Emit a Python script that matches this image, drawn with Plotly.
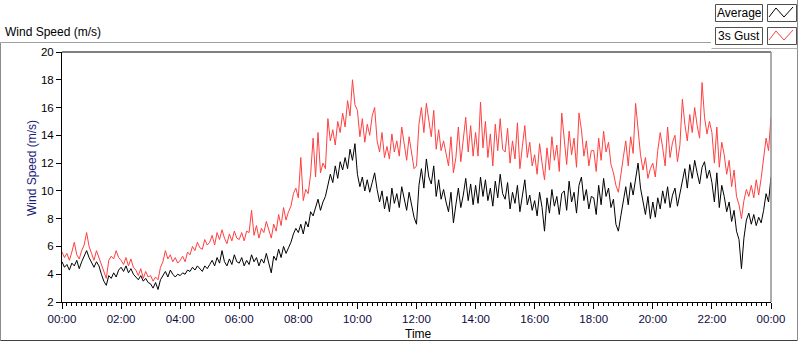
import plotly.graph_objects as go

# ---- data (5-minute samples, 00:00 .. 24:00) ----
step_minutes = 5
avg_speed = [
    4.9, 4.5, 4.7, 4.3, 4.8, 4.6, 5.0, 4.4, 4.9, 5.3, 5.7, 5.2,
    4.8, 4.5, 4.9, 4.6, 4.0, 3.5, 3.2, 3.9, 3.7, 4.1, 3.8, 4.3,
    4.5, 4.2, 4.6, 4.1, 4.4, 4.0, 3.8, 3.6, 3.9, 3.5, 3.7, 3.4,
    3.3, 3.0, 3.4, 2.9, 3.6, 3.9, 4.2, 3.8, 4.3, 4.0, 3.8, 4.0,
    3.9, 4.1, 4.0, 4.3, 4.2, 4.5, 4.3, 4.6, 4.4, 4.2, 4.6, 4.4,
    4.7, 5.0, 4.6, 5.2, 4.8, 5.7, 4.9, 4.6, 5.1, 4.7, 5.4, 4.9,
    4.8, 5.2, 4.6, 5.0, 4.7, 5.4, 4.9, 5.2, 4.6, 5.1, 4.8, 5.5,
    4.8, 4.1, 5.3, 5.0, 5.8, 5.2, 6.0, 5.5, 5.9, 6.3, 6.9, 7.3,
    7.0, 7.6, 6.9, 7.8, 7.4, 8.5, 8.2, 8.9, 9.4, 8.6, 9.2, 9.6,
    10.3, 11.2, 10.6, 11.8, 10.9, 12.1, 11.5, 12.4, 11.6, 13.0, 12.2, 13.4,
    11.2, 10.3, 11.0, 10.0, 10.8, 9.9, 10.6, 11.3, 10.1, 9.2, 10.0, 8.7,
    9.6, 8.5, 10.2, 9.1, 9.8, 8.8, 10.3, 9.4, 8.6, 9.9, 9.0, 8.1,
    7.6, 10.4, 11.6, 10.2, 12.3, 11.0, 10.5, 11.8, 9.6, 10.8, 9.4, 10.1,
    9.2, 8.5, 9.9, 7.7, 9.0, 10.2, 8.8, 9.7, 10.9, 9.3, 10.5, 9.0,
    10.4, 9.1, 11.0, 9.6, 10.8, 9.3, 10.2, 8.9, 10.7, 9.5, 11.2, 9.8,
    9.4, 10.6, 8.7, 9.9, 9.1, 10.4, 8.5, 9.6, 10.8, 9.0, 9.7, 8.6,
    9.3, 8.2, 9.9, 8.8, 7.1, 9.5, 8.4, 10.1, 8.9, 9.6, 8.3, 9.8,
    10.0, 8.6, 10.7, 9.2, 9.9, 8.4, 10.4, 11.0, 9.3, 10.1, 8.7, 9.6,
    9.5, 8.3, 10.4, 9.0, 10.9, 9.6, 10.2, 8.8, 9.4, 7.6, 7.1, 8.2,
    9.4, 10.3, 9.0, 10.6, 9.7, 11.0, 12.0, 10.2, 9.1, 8.3, 9.6, 8.0,
    9.2, 8.1, 9.5, 8.7, 10.0, 9.1, 10.3, 8.8, 9.7, 10.2, 8.9, 9.9,
    10.8, 11.6, 10.2, 11.9, 10.9, 12.2, 11.3, 10.5, 11.7, 12.1, 10.9, 11.5,
    10.6, 9.2, 11.3, 8.8, 10.4, 9.6, 8.5, 9.2, 7.8, 8.6, 7.1, 6.5,
    4.4, 6.6, 7.9, 8.4, 7.6, 8.3, 7.5, 8.1, 7.7, 8.6, 9.8, 9.2,
    11.0,
]
gust_speed = [
    5.6, 5.2, 5.5, 5.0, 5.6, 6.3, 5.4, 5.1, 5.7, 6.1, 7.0, 6.0,
    5.5, 5.0, 5.7, 5.2, 4.6, 4.2, 3.7, 5.0, 5.3, 5.1, 5.7, 5.2,
    5.0, 4.7, 5.2, 4.6, 5.1, 4.5, 4.3, 3.9, 4.4, 3.7, 4.2, 3.8,
    3.9, 3.5, 3.8, 3.6, 4.5, 4.9, 5.7, 5.1, 5.4, 4.9, 5.2, 4.8,
    5.0, 5.3, 4.9, 5.6, 5.4, 6.0, 5.7, 6.3, 5.9, 5.8, 6.5, 6.1,
    6.3, 6.8, 6.1, 7.0, 6.5, 7.2, 6.6, 6.2, 6.9, 6.4, 7.1, 6.6,
    6.5, 7.0, 6.4, 7.1, 7.0, 8.6, 6.8, 7.5, 6.6, 7.3, 7.0, 7.8,
    7.2, 6.6, 7.6, 7.1, 8.3, 7.5, 8.8, 7.9, 8.5, 8.9, 9.8, 10.2,
    9.5, 12.4, 9.3, 10.1, 9.8, 11.2, 13.8, 11.0, 14.2, 11.3, 12.0, 11.6,
    15.2, 13.6, 14.4, 13.3, 15.0, 14.2, 15.6, 14.6, 16.5, 15.4, 18.0, 16.2,
    15.8, 13.9, 15.2, 13.5, 14.8, 14.0, 15.4, 16.0, 13.6, 12.8, 14.2, 12.4,
    13.2, 12.3, 14.1, 12.8, 13.6, 12.5, 14.6, 13.3, 12.2, 13.9, 12.7, 11.6,
    11.8, 14.8, 16.0, 14.2, 16.3, 15.1, 13.9, 15.8, 13.0, 14.4, 12.9, 13.6,
    12.6, 11.8, 13.9, 11.3, 12.4, 14.6, 12.1, 13.5, 15.3, 12.8, 14.7, 12.5,
    14.2, 12.5, 16.4, 13.1, 15.0, 12.4, 14.1, 11.8, 14.8, 12.9, 15.2, 13.0,
    12.8, 14.5, 12.0, 13.6, 12.3, 14.9, 11.6, 13.2, 14.7, 12.4, 13.5, 11.8,
    12.6, 11.2, 13.4, 12.0, 10.8, 13.1, 11.5, 13.9, 12.2, 13.3, 11.4, 15.6,
    13.5, 11.9, 14.3, 12.6, 13.8, 11.7, 15.6, 14.4, 12.5, 13.6, 11.8, 12.9,
    12.9, 11.4, 13.8, 12.2, 14.3, 12.8, 13.5, 11.9, 11.3, 10.4, 9.9, 11.0,
    12.4, 13.6, 11.8, 13.9, 12.7, 16.3, 14.2, 12.6, 11.5, 12.4, 10.9, 11.6,
    12.0, 11.0, 12.9, 14.2, 13.1, 11.8, 14.6, 12.4, 13.5, 14.0, 12.1, 13.3,
    16.6, 14.8, 13.6, 15.5, 14.2, 16.0, 14.7, 13.8, 17.8, 15.3, 14.1, 15.0,
    14.2, 12.0, 14.6, 11.7, 13.5, 12.6, 11.2, 12.2, 10.3, 11.5, 9.6, 9.0,
    8.0, 9.3, 10.1, 9.6, 10.4, 9.5, 10.8, 9.7, 10.9, 12.6, 13.8, 12.9,
    15.3,
]
series_names = ["Average", "3s Gust"]
series_colors = ["#000000", "#ff4040"]
tick_hours = [0, 2, 4, 6, 8, 10, 12, 14, 16, 18, 20, 22, 24]
tick_labels = ["00:00", "02:00", "04:00", "06:00", "08:00", "10:00", "12:00",
               "14:00", "16:00", "18:00", "20:00", "22:00", "00:00"]
y_ticks = [2, 4, 6, 8, 10, 12, 14, 16, 18, 20]

time_hours = [i * step_minutes / 60 for i in range(len(avg_speed))]

# ---- layout geometry (pixels) ----
W, H = 800, 342
L, R, T, B = 62, 771, 52, 302


def px(x):
    return (x - L) / (R - L)


def py(y):
    return (B - y) / (B - T)


FONT = "Liberation Sans, Arial, sans-serif"

fig = go.Figure()
fig.add_trace(go.Scatter(x=time_hours, y=gust_speed, mode="lines", name=series_names[1],
                         line=dict(color=series_colors[1], width=1)))
fig.add_trace(go.Scatter(x=time_hours, y=avg_speed, mode="lines", name=series_names[0],
                         line=dict(color=series_colors[0], width=1)))

shapes = []
frame = "#8c8c8c"
# outer frame
shapes.append(dict(type="line", xref="paper", yref="paper", x0=px(0.5), x1=px(711), y0=py(42.5), y1=py(42.5),
                   line=dict(color="#a0a0a0", width=1)))
shapes.append(dict(type="line", xref="paper", yref="paper", x0=px(0.5), x1=px(0.5), y0=py(42.5), y1=py(340.5),
                   line=dict(color=frame, width=1)))
shapes.append(dict(type="line", xref="paper", yref="paper", x0=px(0.5), x1=px(797.5), y0=py(340.5), y1=py(340.5),
                   line=dict(color="#404040", width=1)))
shapes.append(dict(type="line", xref="paper", yref="paper", x0=px(797.5), x1=px(797.5), y0=py(0), y1=py(340.5),
                   line=dict(color=frame, width=1)))
# legend container
shapes.append(dict(type="line", xref="paper", yref="paper", x0=px(711.5), x1=px(797.5), y0=py(48.5), y1=py(48.5),
                   line=dict(color="#b0b0b0", width=1)))
# plot borders
shapes.append(dict(type="line", xref="paper", yref="paper", x0=0, x1=1, y0=1, y1=1,
                   line=dict(color="#000000", width=1)))
shapes.append(dict(type="line", xref="paper", yref="paper", x0=1, x1=1, y0=0, y1=1,
                   line=dict(color="#909090", width=1.5)))

annotations = []
# legend boxes
rows = [(4, 21), (27, 44)]
for (y0, y1), name, col in zip(rows, series_names, series_colors):
    shapes.append(dict(type="rect", xref="paper", yref="paper", x0=px(715.5), x1=px(762.5), y0=py(y0 + 0.5), y1=py(y1 + 0.5),
                       line=dict(color="#505050", width=1), fillcolor="#ffffff"))
    shapes.append(dict(type="rect", xref="paper", yref="paper", x0=px(767.5), x1=px(796.5), y0=py(y0 + 0.5), y1=py(y1 + 0.5),
                       line=dict(color="#505050", width=1), fillcolor="#ffffff"))
    pts = [(769, y1 - 4), (776, y0 + 4), (784, y1 - 4), (793, y0 + 3)]
    path = "M " + " L ".join(f"{px(a):.5f},{py(b):.5f}" for a, b in pts)
    shapes.append(dict(type="path", xref="paper", yref="paper", path=path, line=dict(color=col, width=1)))
    annotations.append(dict(x=px(739), y=py((y0 + y1) / 2 + 0.5), xref="paper", yref="paper", text=name,
                            showarrow=False, xanchor="center", yanchor="middle",
                            font=dict(family=FONT, size=12, color="#000000")))

annotations.append(dict(x=px(3), y=py(32.5), xref="paper", yref="paper", text="Wind Speed (m/s)",
                        showarrow=False, xanchor="left", yanchor="middle",
                        font=dict(family=FONT, size=12, color="#000000")))
annotations.append(dict(x=px(32), y=py(168), xref="paper", yref="paper", text="Wind Speed (m/s)",
                        showarrow=False, xanchor="center", yanchor="middle", textangle=-90,
                        font=dict(family=FONT, size=12, color="#1c1c78")))
annotations.append(dict(x=px(418), y=py(334), xref="paper", yref="paper", text="Time",
                        showarrow=False, xanchor="center", yanchor="middle",
                        font=dict(family=FONT, size=12, color="#000000")))

fig.update_layout(
    width=W, height=H,
    margin=dict(l=L, r=W - R, t=T, b=H - B, pad=0),
    paper_bgcolor="#ffffff", plot_bgcolor="#ffffff",
    showlegend=False,
    shapes=shapes, annotations=annotations,
    xaxis=dict(range=[0, 24], tickvals=tick_hours, ticktext=tick_labels,
               showgrid=False, zeroline=False, showline=True, linecolor="#000000", linewidth=1,
               ticks="outside", ticklen=6, tickcolor="#000000", tickwidth=1,
               tickfont=dict(family=FONT, size=11.5, color="#0c0c40"),
               minor=dict(dtick=1 / 6, tick0=0, ticks="outside", ticklen=3, tickcolor="#000000", tickwidth=1,
                          showgrid=False)),
    yaxis=dict(range=[2, 20], tickvals=y_ticks, showgrid=False, zeroline=False,
               showline=True, linecolor="#000000", linewidth=1,
               ticks="outside", ticklen=5, tickcolor="#000000", tickwidth=1,
               tickfont=dict(family=FONT, size=11.5, color="#000000")),
)

fig.write_html("out.html", config={"displayModeBar": False},
               post_script="document.body.style.margin='0';document.body.style.overflow='hidden';")
